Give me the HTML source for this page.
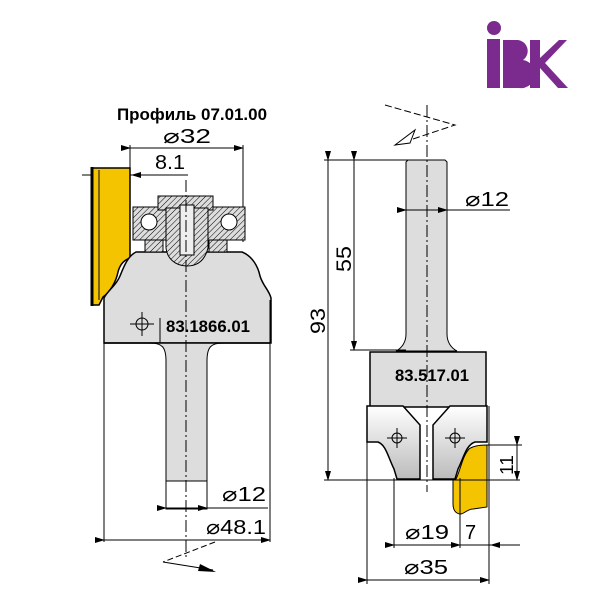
<!DOCTYPE html>
<html><head><meta charset="utf-8"><style>
html,body{margin:0;padding:0;background:#fff}
svg{display:block}
text{font-family:"Liberation Sans",sans-serif}
</style></head><body>
<svg width="600" height="600" viewBox="0 0 600 600" xmlns="http://www.w3.org/2000/svg">
<defs>
<marker id="a" markerWidth="10" markerHeight="6" refX="9" refY="3" orient="auto"><path d="M0,0L10,3L0,6z" fill="#000"/></marker>
<pattern id="h" width="4" height="4" patternUnits="userSpaceOnUse" patternTransform="rotate(45)"><rect width="4" height="4" fill="#ddd"/><line x1="0" y1="0" x2="0" y2="4" stroke="#000" stroke-width="1"/></pattern>
<linearGradient id="g" x1="0" y1="0" x2="0" y2="1"><stop offset="0" stop-color="#fff"/><stop offset="1" stop-color="#bbb"/></linearGradient>
</defs>
<!-- logo -->
<g fill="#7b2a8e">
<circle cx="494" cy="28" r="7"/>
<rect x="487" y="39" width="13" height="49"/>
<path d="M503,40h14a11,11 0 0 1 6,20a12,12 0 0 1 -4,28h-16z"/>
<path d="M530,40h10v18l19,-18h8l-22,23l23,25h-10l-18,-20v20h-10z"/>
</g>
<!-- LEFT CUTTER -->
<text x="117" y="120" font-size="17" font-weight="bold" textLength="150" lengthAdjust="spacingAndGlyphs">Профиль 07.01.00</text>
<text x="163" y="143" font-size="20" textLength="48" lengthAdjust="spacingAndGlyphs">⌀32</text>
<text x="155" y="169" font-size="20" textLength="30" lengthAdjust="spacingAndGlyphs">8.1</text>
<g stroke="#000" stroke-width="1" fill="none">
<line x1="130" y1="148" x2="243" y2="148" marker-start="url(#a)" marker-end="url(#a)"/>
<line x1="130" y1="145" x2="130" y2="200"/>
<line x1="243" y1="145" x2="243" y2="242"/>
<line x1="82" y1="175" x2="188" y2="175"/>
<line x1="188" y1="175" x2="132" y2="175" marker-end="url(#a)"/>
</g>
<!-- yellow profile -->
<path d="M92,168h38v90c-6,2 -10,6 -12,14c-2,10 -8,20 -15,25l-4,8h-7z" fill="#f5c400" stroke="#000" stroke-width="1.5"/>
<line x1="92" y1="167" x2="92" y2="306" stroke="#000" stroke-width="3"/>
<line x1="99" y1="170" x2="99" y2="300" stroke="#000" stroke-width="1"/>
<!-- body -->
<path d="M104,343v-45c4,-8 12,-12 16,-22c4,-10 8,-20 16,-24h106c10,4 16,14 18,24c3,10 9,14 11,22v45z" fill="#ddd" stroke="#000" stroke-width="1.5"/>
<!-- bearing -->
<rect x="133" y="207" width="112" height="33" fill="url(#h)" stroke="#000"/>
<rect x="158" y="196" width="55" height="14" fill="url(#h)" stroke="#000"/>
<path d="M166,208h42v40c-3,12 -10,18 -21,18c-12,0 -20,-8 -21,-18z" fill="url(#h)" stroke="#000"/>
<rect x="180" y="205" width="14" height="50" fill="#eee" stroke="#000"/>
<circle cx="149" cy="222" r="8" fill="#fff" stroke="#000"/>
<circle cx="229" cy="222" r="8" fill="#fff" stroke="#000"/>
<rect x="145" y="240" width="18" height="12" fill="url(#h)" stroke="#000"/>
<rect x="209" y="240" width="18" height="12" fill="url(#h)" stroke="#000"/>
<!-- shank -->
<path d="M150,343c12,0 16,4 16,18v120h41v-120c0,-14 4,-18 16,-18z" fill="#ddd" stroke="#000"/>
<line x1="104" y1="343" x2="270" y2="343" stroke="#000" stroke-width="1.5"/>
<rect x="166" y="481" width="41" height="28" fill="#fff" stroke="#000"/>
<text x="166" y="332" font-size="17" font-weight="bold" textLength="84" lengthAdjust="spacingAndGlyphs">83.1866.01</text>
<g stroke="#000" fill="none"><circle cx="142" cy="324" r="6"/><line x1="130" y1="324" x2="154" y2="324"/><line x1="142" y1="312" x2="142" y2="336"/>
<line x1="160" y1="343" x2="160" y2="318"/></g>
<g stroke="#000" stroke-width="1" fill="none">
<line x1="186" y1="180" x2="186" y2="558" stroke-dasharray="12,3,2,3"/>
<line x1="104" y1="300" x2="104" y2="542"/>
<line x1="270" y1="300" x2="270" y2="542"/>
<line x1="104" y1="540" x2="270" y2="540" marker-start="url(#a)" marker-end="url(#a)"/>
<line x1="166" y1="508" x2="207" y2="508" marker-start="url(#a)" marker-end="url(#a)"/>
<line x1="207" y1="508" x2="268" y2="508"/>
<path d="M215,542l-52,20" stroke-dasharray="6,3"/>
<path d="M163,562l50,8"/>
</g>
<path d="M200,564l16,8l-18,-1z" fill="#000"/>
<text x="222" y="501" font-size="20" textLength="44" lengthAdjust="spacingAndGlyphs">⌀12</text>
<text x="206" y="534" font-size="20" textLength="60" lengthAdjust="spacingAndGlyphs">⌀48.1</text>
<!-- RIGHT CUTTER -->
<g stroke="#000" fill="none">
<path d="M385,105l70,20l-60,20" stroke-dasharray="7,3"/>
</g>
<path d="M395,145l20,-15l-5,13z" fill="#fff" stroke="#000"/>
<path d="M406,162l2,-2h37l2,2v172c0,8 4,14 10,17h-61c6,-3 10,-9 10,-17z" fill="#ddd" stroke="#000"/>
<rect x="370" y="352" width="116" height="55" fill="#ddd" stroke="#000" stroke-width="1.5"/>
<text x="395" y="381" font-size="17" font-weight="bold" textLength="74" lengthAdjust="spacingAndGlyphs">83.517.01</text>
<path d="M367,406h36l17,19v54h-23l-3,-10c-6,-12 -8,-24 -16,-27h-11z" fill="url(#g)" stroke="#000" stroke-width="1.5"/>
<path d="M487,406h-37l-17,19v54h22l3,-10c6,-12 8,-24 17,-27h12z" fill="url(#g)" stroke="#000" stroke-width="1.5"/>
<path d="M487,445v62l-14,2c-5,0 -8,4 -12,5c-6,0 -8,-5 -8,-10v-25h3c5,-10 6,-22 13,-30c4,-3 10,-4 18,-4z" fill="#f5c400" stroke="#000"/>
<g stroke="#000" fill="none">
<circle cx="397" cy="438" r="5"/><line x1="387" y1="438" x2="407" y2="438"/><line x1="397" y1="428" x2="397" y2="448"/>
<circle cx="455" cy="438" r="5"/><line x1="445" y1="438" x2="465" y2="438"/><line x1="455" y1="428" x2="455" y2="448"/>
<line x1="427" y1="105" x2="427" y2="492" stroke-dasharray="12,3,2,3"/>
<line x1="324" y1="160" x2="440" y2="160"/>
<line x1="350" y1="350" x2="406" y2="350"/>
<line x1="324" y1="480" x2="520" y2="480"/>
<line x1="328" y1="160" x2="328" y2="480" marker-start="url(#a)" marker-end="url(#a)"/>
<line x1="354" y1="160" x2="354" y2="350" marker-start="url(#a)" marker-end="url(#a)"/>
<line x1="406" y1="210" x2="447" y2="210" marker-start="url(#a)" marker-end="url(#a)"/>
<line x1="447" y1="210" x2="510" y2="210"/>
<line x1="487" y1="445" x2="522" y2="445"/>
<line x1="517" y1="445" x2="517" y2="480" marker-start="url(#a)" marker-end="url(#a)"/>
<line x1="367" y1="406" x2="367" y2="584"/>
<line x1="489" y1="406" x2="489" y2="584"/>
<line x1="394" y1="478" x2="394" y2="548"/>
<line x1="460" y1="478" x2="460" y2="548"/>
<line x1="394" y1="545" x2="460" y2="545" marker-start="url(#a)" marker-end="url(#a)"/>
<line x1="460" y1="545" x2="520" y2="545"/>
<line x1="520" y1="545" x2="491" y2="545" marker-end="url(#a)"/>
<line x1="367" y1="580" x2="489" y2="580" marker-start="url(#a)" marker-end="url(#a)"/>
</g>
<text x="465" y="206" font-size="20" textLength="44" lengthAdjust="spacingAndGlyphs">⌀12</text>
<text transform="translate(351,272) rotate(-90)" font-size="21" textLength="26" lengthAdjust="spacingAndGlyphs">55</text>
<text transform="translate(325,334) rotate(-90)" font-size="21" textLength="26" lengthAdjust="spacingAndGlyphs">93</text>
<text transform="translate(513,475) rotate(-90)" font-size="18" textLength="20" lengthAdjust="spacingAndGlyphs">11</text>
<text x="405" y="539" font-size="20" textLength="44" lengthAdjust="spacingAndGlyphs">⌀19</text>
<text x="465" y="539" font-size="20">7</text>
<text x="404" y="574" font-size="20" textLength="44" lengthAdjust="spacingAndGlyphs">⌀35</text>
</svg>
</body></html>
